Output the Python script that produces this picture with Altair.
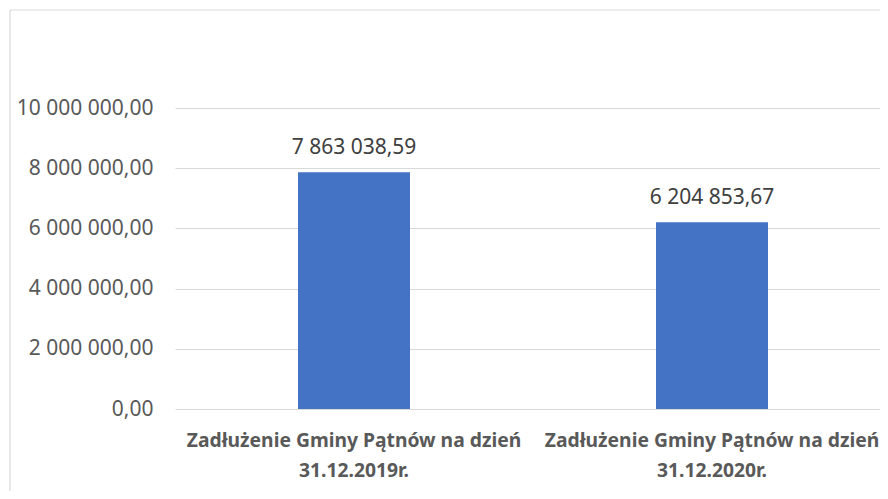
import altair as alt
import pandas as pd

categories = [
    "Zadłużenie Gminy Pątnów na dzień\n31.12.2019r.",
    "Zadłużenie Gminy Pątnów na dzień\n31.12.2020r.",
]
values = [7863038.59, 6204853.67]
y_ticks = [0, 2000000, 4000000, 6000000, 8000000, 10000000]

df = pd.DataFrame({"kategoria": categories, "wartosc": values})
FONT = "Noto Sans"

x_scale = alt.Scale(range=[0, 716], paddingInner=0.6872, paddingOuter=0.3436)
y_scale = alt.Scale(domain=[0, 10000000], nice=False)

x_enc = alt.X(
    "kategoria:N",
    sort=categories,
    title=None,
    scale=x_scale,
    axis=alt.Axis(
        labelExpr="split(datum.label, '\\n')",
        labelAngle=0,
        labelFont=FONT,
        labelFontWeight="bold",
        labelFontSize=19.3,
        labelColor="#595959",
        labelLineHeight=30,
        labelPadding=22,
        labelLimit=0,
        labelOverlap=False,
        labelFlush=False,
        domain=False,
        ticks=False,
        grid=False,
    ),
)

y_enc = alt.Y(
    "wartosc:Q",
    title=None,
    scale=y_scale,
    axis=alt.Axis(
        values=y_ticks,
        format=",.2f",
        labelFont=FONT,
        labelFontSize=21,
        labelColor="#595959",
        labelPadding=22,
        domain=False,
        ticks=False,
        grid=True,
        gridColor="#d9d9d9",
        gridWidth=1.2,
    ),
)

bars = alt.Chart(df).mark_bar(color="#4472C4").encode(x=x_enc, y=y_enc)

labels = alt.Chart(df).mark_text(
    font=FONT, fontSize=21, color="#404040", baseline="alphabetic", dy=-18
).encode(
    x=x_enc,
    y=y_enc,
    text=alt.Text("wartosc:Q", format=",.2f"),
)

frame_df = pd.DataFrame({"a": [0]})
frame_top = alt.Chart(frame_df).mark_rule(color="#d9d9d9", strokeWidth=1.2).encode(
    x=alt.value(-165), x2=alt.value(720), y=alt.value(-98)
)
frame_left = alt.Chart(frame_df).mark_rule(color="#d9d9d9", strokeWidth=1.2).encode(
    x=alt.value(-165), y=alt.value(-98), y2=alt.value(420)
)

chart = (
    alt.layer(frame_top, frame_left, bars, labels)
    .properties(
        width=705,
        height=301,
        autosize=alt.AutoSizeParams(type="none"),
        padding={"left": 167, "top": 100, "right": 0, "bottom": 82},
    )
    .configure(
        locale={
            "number": {
                "decimal": ",",
                "thousands": "\u00a0",
                "grouping": [3],
                "currency": ["", " zł"],
            }
        }
    )
    .configure_view(stroke="transparent", strokeWidth=0)
)

chart.save("out.html", embed_options={"renderer": "svg", "actions": False})
